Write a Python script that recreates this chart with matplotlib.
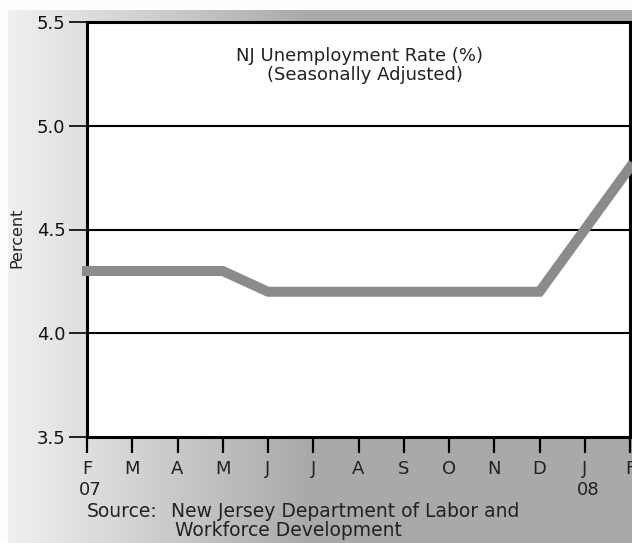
import numpy as np
import matplotlib
matplotlib.use("Agg")
import matplotlib.pyplot as plt
from matplotlib import transforms

plt.rcParams['font.family'] = ['DejaVu Sans']

months = ["F", "M", "A", "M", "J", "J", "A", "S", "O", "N", "D", "J", "F"]
rates = [4.3, 4.3, 4.3, 4.3, 4.2, 4.2, 4.2, 4.2, 4.2, 4.2, 4.2, 4.5, 4.8]
years = {0: "07", 11: "08"}
yticks = [3.5, 4.0, 4.5, 5.0, 5.5]
ytick_labels = ["3.5", "4.0", "4.5", "5.0", "5.5"]

W, H = 632, 543
fig = plt.figure(figsize=(W / 100, H / 100), dpi=100)

# background gradient panel
bg = fig.add_axes([0, 0, 1, 1], zorder=-5)
xs = np.arange(W)
t = np.clip((xs - 8) / (310 - 8), 0, 1)
shade = 0.945 - (0.945 - 0.665) * t
panel = np.ones((H, W)) * shade[None, :]
panel[:10, :] = 1.0
panel[:, :8] = 1.0
img = np.stack([panel * 0.995, panel * 0.998, panel * 1.006], axis=-1).clip(0, 1)
bg.imshow(img, aspect='auto', extent=[0, W, H, 0], interpolation='bilinear')
bg.set_xlim(0, W)
bg.set_ylim(H, 0)
bg.axis('off')

left, right, top, bottom = 87, 630, 22, 437
ax = fig.add_axes([left / W, 1 - bottom / H, (right - left) / W, (bottom - top) / H])
ax.set_facecolor('white')

x = np.arange(len(months))
ax.plot(x, rates, color='#8b8b8b', lw=7.2, solid_capstyle='projecting',
        solid_joinstyle='miter', clip_on=False, zorder=3)

ax.set_xlim(0, len(months) - 1)
ax.set_ylim(3.5, 5.5)
for v in [4.0, 4.5, 5.0]:
    ax.axhline(v, color='black', lw=1.5, zorder=2)

for s in ax.spines.values():
    s.set_linewidth(2.2)
    s.set_color('black')

txt = '#222222'
ax.set_yticks(yticks)
ax.set_yticklabels(ytick_labels, fontsize=13)
ax.tick_params(axis='y', length=13, width=1.2, pad=2.5, colors='black')
for lab in ax.get_yticklabels():
    lab.set_color('#111111')
ax.set_xticks(x)
ax.set_xticklabels(months, fontsize=13)
ax.tick_params(axis='x', length=11.5, width=1.6, pad=5, colors='black')
for lab in ax.get_xticklabels():
    lab.set_color(txt)

trans = transforms.blended_transform_factory(ax.transData, fig.transFigure)
for i, yr in years.items():
    ax.text(i + 0.08, 1 - 495 / H, yr, transform=trans, ha='center', va='baseline',
            fontsize=13, color=txt)

fig.text(360 / W, 1 - 61 / H, "NJ Unemployment Rate (%)", ha='center', va='baseline',
         fontsize=13, color=txt)
fig.text(365 / W, 1 - 80 / H, "(Seasonally Adjusted)", ha='center', va='baseline',
         fontsize=13, color=txt)

fig.text(17 / W, 1 - 238 / H, "Percent", rotation=90, ha='center', va='center',
         fontsize=11.5, color=txt)

fig.text(87 / W, 1 - 517 / H, "Source:", ha='left', va='baseline', fontsize=13.5, color=txt)
fig.text(171 / W, 1 - 517 / H, "New Jersey Department of Labor and",
         ha='left', va='baseline', fontsize=13.5, color=txt)
fig.text(175 / W, 1 - 536 / H, "Workforce Development",
         ha='left', va='baseline', fontsize=13.5, color=txt)

fig.savefig("out.png", dpi=100)
